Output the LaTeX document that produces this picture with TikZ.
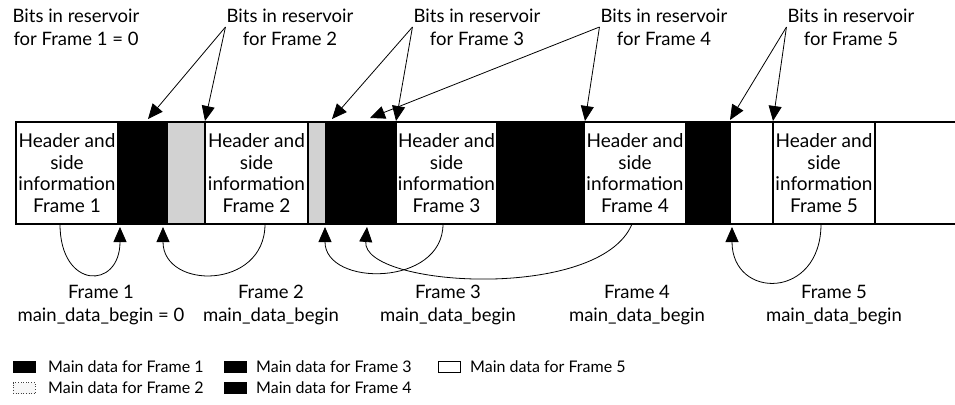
\documentclass[tikz,border=0pt]{standalone}
\usepackage{fontspec}
\setmainfont{Lato}
\usetikzlibrary{arrows.meta}
\newcommand\lblfont{\fontsize{18.5}{23}\selectfont}
\newcommand\hdrfont{\fontsize{19}{21.6}\selectfont}
\newcommand\legfont{\fontsize{16}{20}\selectfont}
\tikzset{
  seg/.style={draw, line width=1.2pt, minimum height=102pt, inner sep=0pt, outer sep=0pt, anchor=north west},
  hdr/.style={seg, fill=white, align=center, font=\hdrfont},
  blk/.style={seg, fill=black},
  gry/.style={seg, fill=gray!35},
  wht/.style={seg, fill=white},
  ptr/.style={-{Triangle[length=15pt,width=13pt]}, line width=0.8pt},
  lab/.style={align=center, font=\lblfont, inner sep=1pt},
  lgsq/.style={draw, line width=0.6pt, minimum width=22pt, minimum height=11pt, inner sep=0pt},
  lgtxt/.style={anchor=west, font=\legfont, inner sep=0pt}
}
\begin{document}
\begin{tikzpicture}[x=1pt,y=-1pt]
\useasboundingbox (0,0) rectangle (955,404);
% bar segments
\node[hdr, minimum width=102pt] (h1) at (16,122) {Header and\\side\\information\\Frame 1};
\node[blk, minimum width=49pt] (b1) at (h1.north east) {};
\node[gry, minimum width=38pt] (g1) at (b1.north east) {};
\node[hdr, minimum width=103pt] (h2) at (g1.north east) {Header and\\side\\information\\Frame 2};
\node[gry, minimum width=18pt] (g2) at (h2.north east) {};
\node[blk, minimum width=70pt] (b3) at (g2.north east) {};
\node[hdr, minimum width=101pt] (h3) at (b3.north east) {Header and\\side\\information\\Frame 3};
\node[blk, minimum width=87pt] (b4) at (h3.north east) {};
\node[hdr, minimum width=102pt] (h4) at (b4.north east) {Header and\\side\\information\\Frame 4};
\node[blk, minimum width=44pt] (b4b) at (h4.north east) {};
\node[wht, minimum width=43pt] (w5) at (b4b.north east) {};
\node[hdr, minimum width=102pt] (h5) at (w5.north east) {Header and\\side\\information\\Frame 5};
\coordinate (endt) at (958,122);
\coordinate (endb) at (958,224);
\draw[line width=1.2pt] (h5.north east) -- (endt);
\draw[line width=1.2pt] (h5.south east) -- (endb);

% top labels
\node[lab] (l1) at (76,27) {Bits in reservoir\\for Frame 1 = 0};
\node[lab] (l2) at (290,27) {Bits in reservoir\\for Frame 2};
\node[lab] (l3) at (477,27) {Bits in reservoir\\for Frame 3};
\node[lab] (l4) at (664,27) {Bits in reservoir\\for Frame 4};
\node[lab] (l5) at (851,27) {Bits in reservoir\\for Frame 5};

% arrow targets on top of bar
\coordinate (t2a) at (148,119);
\coordinate (t2b) at (205,121);
\coordinate (t3a) at (332,119);
\coordinate (t3b) at (396,121);
\coordinate (t4a) at (370,118);
\coordinate (t4b) at (585,121);
\coordinate (t5a) at (730,120);
\coordinate (t5b) at (773,121);

\draw[ptr] (l2.west) -- (t2a);
\draw[ptr] (l2.west) -- (t2b);
\draw[ptr] (l3.west) -- (t3a);
\draw[ptr] (l3.west) -- (t3b);
\draw[ptr] (l4.west) -- (t4a);
\draw[ptr] (l4.west) -- (t4b);
\draw[ptr] (l5.west) -- (t5a);
\draw[ptr] (l5.west) -- (t5b);

% bottom curves
\coordinate (s1) at (60,224);
\coordinate (s2) at (265,224);
\coordinate (s3) at (443,224);
\coordinate (s4) at (632,224);
\coordinate (s5) at (821,224);
\coordinate (e1) at (120,227);
\coordinate (e2) at (163,227);
\coordinate (e3) at (325,227);
\coordinate (e4) at (367,227);
\coordinate (e5) at (732,227);
\draw[ptr] (s1) .. controls (60,290) and (120,290) .. (e1);
\draw[ptr] (s2) .. controls (265,290) and (163,290) .. (e2);
\draw[ptr] (s3) .. controls (443,287) and (325,287) .. (e3);
\draw[ptr] (s4) .. controls (600,302) and (362,287) .. (e4);
\draw[ptr] (s5) .. controls (821,300) and (732,300) .. (e5);

% bottom labels
\node[lab] (m1) at (101,305) {Frame 1\\main\_data\_begin = 0};
\node[lab] (m2) at (271,305) {Frame 2\\main\_data\_begin};
\node[lab] (m3) at (448,305) {Frame 3\\main\_data\_begin};
\node[lab] (m4) at (637,305) {Frame 4\\main\_data\_begin};
\node[lab] (m5) at (834,305) {Frame 5\\main\_data\_begin};

% legend
\node[lgsq, fill=black] (k1) at (24,367) {};
\node[lgsq, fill=black] (k3) at (235,367) {};
\node[lgsq, fill=white] (k5) at (449,367) {};
\node[lgsq, draw=black!75, dotted, fill=gray!6] (k2) at (24,388) {};
\node[lgsq, fill=black] (k4) at (235,388) {};
\node[lgtxt] (k1t) at (48,367) {Main data for Frame 1};
\node[lgtxt] (k3t) at (256,367) {Main data for Frame 3};
\node[lgtxt] (k5t) at (470,367) {Main data for Frame 5};
\node[lgtxt] (k2t) at (48,388) {Main data for Frame 2};
\node[lgtxt] (k4t) at (256,388) {Main data for Frame 4};
\end{tikzpicture}
\end{document}
